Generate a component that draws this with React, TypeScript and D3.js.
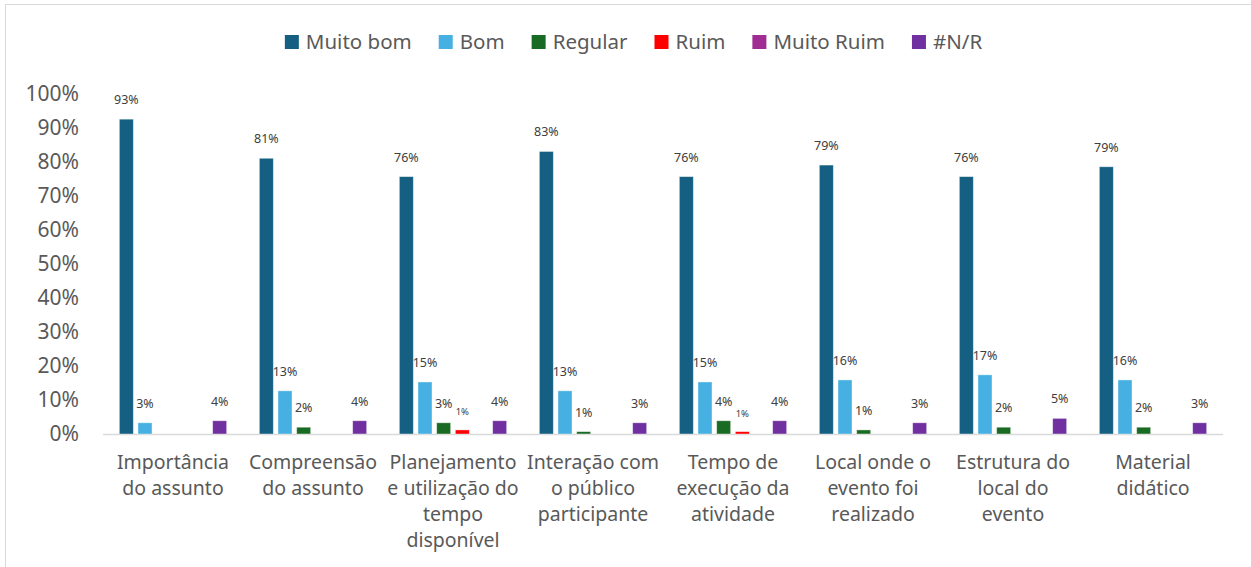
import React, { useEffect, useRef } from "react";
import * as d3 from "d3";

const categories = [
  "Importância\ndo assunto",
  "Compreensão\ndo assunto",
  "Planejamento\ne utilização do\ntempo\ndisponível",
  "Interação com\no público\nparticipante",
  "Tempo de\nexecução da\natividade",
  "Local onde o\nevento foi\nrealizado",
  "Estrutura do\nlocal do\nevento",
  "Material\ndidático",
];
const seriesNames = ["Muito bom", "Bom", "Regular", "Ruim", "Muito Ruim", "#N/R"];
const seriesColors = ["#156082", "#45B0E1", "#196B24", "#FF0000", "#A02B93", "#7030A0"];

const muitoBom = [0.926, 0.811, 0.757, 0.831, 0.757, 0.791, 0.757, 0.786];
const bom = [0.033, 0.127, 0.153, 0.127, 0.153, 0.159, 0.174, 0.159];
const regular = [0, 0.02, 0.033, 0.007, 0.039, 0.012, 0.02, 0.02];
const ruim = [0, 0, 0.012, 0, 0.007, 0, 0, 0];
const muitoRuim = [0, 0, 0, 0, 0, 0, 0, 0];
const nr = [0.039, 0.039, 0.039, 0.033, 0.039, 0.033, 0.046, 0.033];
const seriesValues = [muitoBom, bom, regular, ruim, muitoRuim, nr];
const yTicks = [0, 0.1, 0.2, 0.3, 0.4, 0.5, 0.6, 0.7, 0.8, 0.9, 1.0];

const W = 1251;
const H = 567;
const FONT = "'Noto Sans', 'Liberation Sans', Arial, sans-serif";

export default function App() {
  const ref = useRef<SVGSVGElement | null>(null);

  useEffect(() => {
    const svg = d3.select(ref.current);
    svg.selectAll("*").remove();

    // chart border
    svg.append("rect")
      .attr("x", 5.5).attr("y", 4.5)
      .attr("width", W + 20).attr("height", H + 20)
      .attr("fill", "#fff").attr("stroke", "#D9D9D9").attr("stroke-width", 1);

    const x0 = d3.scaleBand<string>()
      .domain(categories)
      .range([103, 1223])
      .paddingInner(0.2)
      .paddingOuter(0.1);
    const x1 = d3.scaleBand<string>()
      .domain(seriesNames)
      .range([0, x0.bandwidth()])
      .paddingInner(0.25)
      .paddingOuter(0.125);
    const y = d3.scaleLinear().domain([0, 1]).range([434, 94]);

    // y axis labels
    svg.append("g")
      .selectAll("text")
      .data(yTicks)
      .join("text")
      .attr("x", 79)
      .attr("y", (d) => y(d))
      .attr("dy", "0.35em")
      .attr("text-anchor", "end")
      .attr("font-family", FONT)
      .attr("font-size", 21)
      .attr("fill", "#595959")
      .text((d) => d3.format(".0%")(d));

    // baseline
    svg.append("line")
      .attr("x1", 103).attr("x2", 1223)
      .attr("y1", y(0) + 0.5).attr("y2", y(0) + 0.5)
      .attr("stroke", "#D9D9D9").attr("stroke-width", 1.5);

    // bars
    const groups = svg.append("g")
      .selectAll("g")
      .data(categories)
      .join("g")
      .attr("transform", (c) => `translate(${x0(c)},0)`);

    groups.each(function (c, ci) {
      const g = d3.select(this);
      seriesNames.forEach((s, si) => {
        const v = seriesValues[si][ci];
        if (v <= 0) return;
        g.append("rect")
          .attr("x", x1(s)!)
          .attr("y", y(v))
          .attr("width", x1.bandwidth())
          .attr("height", y(0) - y(v))
          .attr("fill", seriesColors[si])
          .attr("stroke", "#fff")
          .attr("stroke-opacity", 0.5)
          .attr("stroke-width", 0.8);
        g.append("text")
          .attr("x", x1(s)! + x1.bandwidth() / 2)
          .attr("y", y(v) - 15)
          .attr("text-anchor", "middle")
          .attr("font-family", FONT)
          .attr("font-size", s === "Ruim" ? 9.5 : 12.5)
          .attr("fill", "#404040")
          .text(d3.format(".0%")(v));
      });
    });

    // category labels
    const catG = svg.append("g");
    categories.forEach((c) => {
      const lines = c.split("\n");
      const t = catG.append("text")
        .attr("text-anchor", "middle")
        .attr("font-family", FONT)
        .attr("font-size", 19.5)
        .attr("fill", "#595959");
      lines.forEach((ln, i) => {
        t.append("tspan")
          .attr("x", x0(c)! + x0.bandwidth() / 2)
          .attr("y", 462 + i * 26)
          .attr("dy", "0.35em")
          .text(ln);
      });
    });

    // legend
    const leg = svg.append("g");
    const items = seriesNames.map((s, i) => {
      const it = leg.append("g");
      it.append("rect").attr("x", 0).attr("y", 35).attr("width", 14).attr("height", 14).attr("fill", seriesColors[i]);
      const t = it.append("text")
        .attr("x", 21)
        .attr("y", 42)
        .attr("dy", "0.35em")
        .attr("font-family", FONT)
        .attr("font-size", 20.5)
        .attr("fill", "#595959")
        .text(s);
      const w = 21 + (t.node() as SVGTextElement).getComputedTextLength();
      return { it, w };
    });
    const gap = 27;
    const total = d3.sum(items, (d) => d.w) + gap * (items.length - 1);
    let cx = 633.5 - total / 2;
    items.forEach((d) => {
      d.it.attr("transform", `translate(${cx},0)`);
      cx += d.w + gap;
    });
  }, []);

  return (
    <svg ref={ref} width={W} height={H} style={{ display: "block", position: "absolute", left: 0, top: 0 }} />
  );
}
